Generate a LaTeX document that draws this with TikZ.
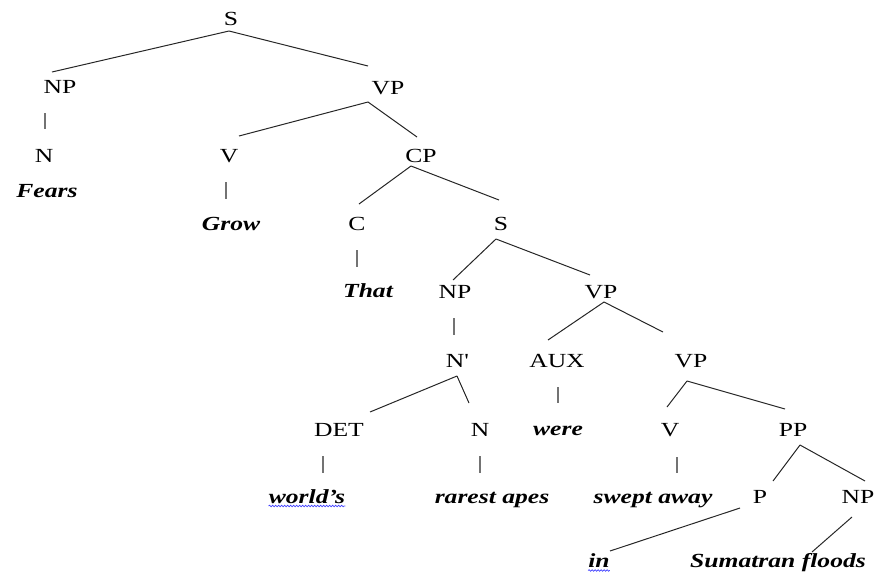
\documentclass[tikz,border=0pt]{standalone}
\usepackage{fontspec}
\setmainfont{Liberation Serif}[FakeStretch=1.28]
\usetikzlibrary{decorations.pathmorphing}
\begin{document}
\begin{tikzpicture}[x=1pt,y=-1pt,
  lab/.style={anchor=base,inner sep=0pt,font=\fontsize{20}{24}\selectfont},
  leaf/.style={lab,font=\fontsize{20}{24}\selectfont\bfseries\itshape},
  br/.style={draw=black!85,line width=1pt},
  bar/.style={draw=black!55,line width=1.3pt},
  wavy/.style={draw=blue!75!white,line width=0.7pt,decorate,decoration={snake,amplitude=0.8pt,segment length=3pt}}]
\useasboundingbox (0,0) rectangle (878,574);
% labels
\node[lab] (S1) at (231,25) {S};
\node[lab] (NP1) at (60,93) {NP};
\node[lab] (VP1) at (388,94) {VP};
\node[lab] (N1) at (44,162) {N};
\node[lab] (V1) at (229,162) {V};
\node[lab] (CP) at (421,162) {CP};
\node[leaf] (Fears) at (47,197) {Fears};
\node[leaf] (Grow) at (231,230) {Grow};
\node[lab] (C) at (357,230) {C};
\node[lab] (S2) at (501,230) {S};
\node[leaf] (That) at (368,297) {That};
\node[lab] (NP2) at (455,298) {NP};
\node[lab] (VP2) at (601,298) {VP};
\node[lab] (Nbar) at (457,367) {N\textquotesingle};
\node[lab] (AUX) at (557,367) {AUX};
\node[lab] (VP3) at (691,367) {VP};
\node[lab] (DET) at (339,436) {DET};
\node[lab] (N2) at (480,436) {N};
\node[leaf] (were) at (558,435) {were};
\node[lab] (V2) at (670,436) {V};
\node[lab] (PP) at (793,436) {PP};
\node[leaf] (worlds) at (307,503) {world’s};
\node[leaf] (rarest) at (492,503) {rarest apes};
\node[leaf] (swept) at (653,503) {swept away};
\node[lab] (P) at (760,503) {P};
\node[lab] (NP3) at (858,503) {NP};
\node[leaf] (in) at (599,567) {in};
\node[leaf] (Sumatran) at (778,567) {Sumatran floods};
% connectors
\draw[br] ([shift={(-2,6)}]S1.base) -- ([shift={(-8,-21)}]NP1.base);
\draw[br] ([shift={(-2,6)}]S1.base) -- ([shift={(-20,-28)}]VP1.base);
\draw[bar] ([shift={(-15,20)}]NP1.base) -- ([shift={(1,-33)}]N1.base);
\draw[br] ([shift={(-20,8)}]VP1.base) -- ([shift={(10,-26)}]V1.base);
\draw[br] ([shift={(-20,8)}]VP1.base) -- ([shift={(-4,-25)}]CP.base);
\draw[bar] ([shift={(-3,20)}]V1.base) -- ([shift={(-5,-31)}]Grow.base);
\draw[br] ([shift={(-10,4)}]CP.base) -- ([shift={(2,-26)}]C.base);
\draw[br] ([shift={(-10,4)}]CP.base) -- ([shift={(-2,-30)}]S2.base);
\draw[bar] ([shift={(0,20)}]C.base) -- ([shift={(-11,-30)}]That.base);
\draw[br] ([shift={(-5,9)}]S2.base) -- ([shift={(-2,-18)}]NP2.base);
\draw[br] ([shift={(-5,9)}]S2.base) -- ([shift={(-11,-23)}]VP2.base);
\draw[bar] ([shift={(-1,20)}]NP2.base) -- ([shift={(-3,-32)}]Nbar.base);
\draw[br] ([shift={(3,4)}]VP2.base) -- ([shift={(-9,-27)}]AUX.base);
\draw[br] ([shift={(3,4)}]VP2.base) -- ([shift={(-28,-35)}]VP3.base);
\draw[br] ([shift={(0,9)}]Nbar.base) -- ([shift={(31,-24)}]DET.base);
\draw[br] ([shift={(0,9)}]Nbar.base) -- ([shift={(-11,-33)}]N2.base);
\draw[bar] ([shift={(1,20)}]AUX.base) -- ([shift={(0,-32)}]were.base);
\draw[bar] ([shift={(-16,20)}]DET.base) -- ([shift={(16,-30)}]worlds.base);
\draw[bar] ([shift={(0,20)}]N2.base) -- ([shift={(-12,-30)}]rarest.base);
\draw[br] ([shift={(-4,14)}]VP3.base) -- ([shift={(-3,-29)}]V2.base);
\draw[br] ([shift={(-4,14)}]VP3.base) -- ([shift={(-8,-27)}]PP.base);
\draw[bar] ([shift={(7,21)}]V2.base) -- ([shift={(24,-30)}]swept.base);
\draw[br] ([shift={(7,9)}]PP.base) -- ([shift={(13,-22)}]P.base);
\draw[br] ([shift={(7,9)}]PP.base) -- ([shift={(7,-22)}]NP3.base);
\draw[br] ([shift={(-20,5)}]P.base) -- ([shift={(11,-16)}]in.base);
\draw[br] ([shift={(-6,14)}]NP3.base) -- ([shift={(34,-15)}]Sumatran.base);
% spell-check underlines
\draw[wavy] ([shift={(0,3)}]worlds.base west) -- ([shift={(0,3)}]worlds.base east);
\draw[wavy] ([shift={(0,3.5)}]in.base west) -- ([shift={(0,3.5)}]in.base east);
\end{tikzpicture}
\end{document}
